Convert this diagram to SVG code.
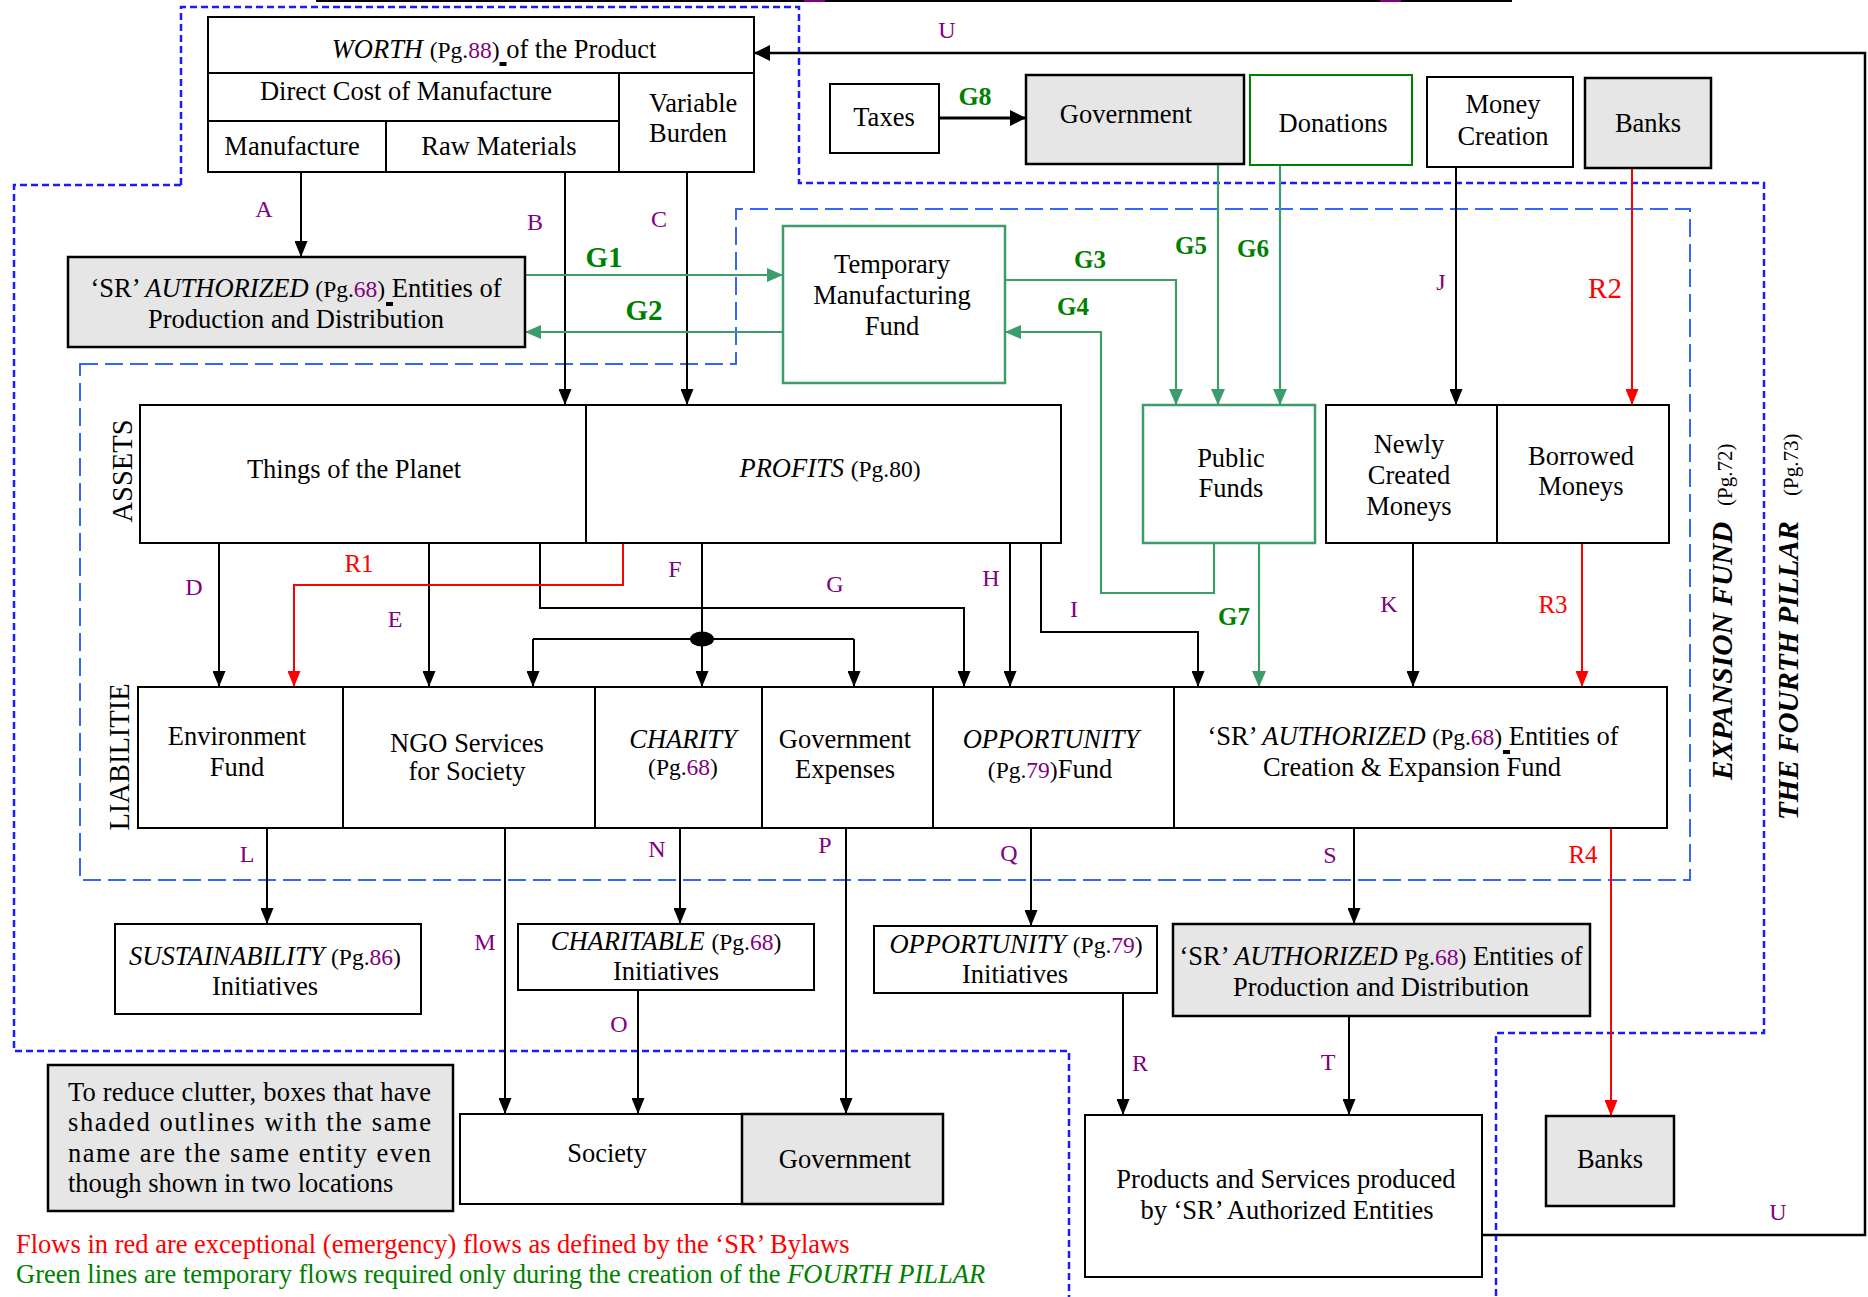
<svg xmlns="http://www.w3.org/2000/svg" width="1868" height="1297" viewBox="0 0 1868 1297">
<style>
text{font-family:"Liberation Serif","Times New Roman",serif;font-size:26.5px;fill:#000}
.c{text-anchor:middle}
.i{font-style:italic}
.pg{font-size:23.5px}
.pu{fill:#800080}
.lb{font-size:24px;fill:#800080;text-anchor:middle}
.gl{fill:#008000;font-weight:bold;text-anchor:middle}
.rl{fill:#ff0000;text-anchor:middle;font-size:25px}
.box{fill:#fff;stroke:#000;stroke-width:2}
.sh{fill:#e6e6e6;stroke:#000;stroke-width:2.5}
.gb{fill:#fff;stroke:#3c9c6c;stroke-width:2.5}
.k{fill:none;stroke:#000;stroke-width:2}
.ka{fill:none;stroke:#000;stroke-width:2;marker-end:url(#ak)}
.ga{fill:none;stroke:#3c9c6c;stroke-width:2.2;marker-end:url(#ag)}
.ra{fill:none;stroke:#ff0000;stroke-width:2;marker-end:url(#ar)}
.fp{fill:none;stroke:#1a1aff;stroke-width:2.5;stroke-dasharray:7 4}
.ef{fill:none;stroke:#3366ff;stroke-width:2;stroke-dasharray:18 7}
.vt{font-weight:bold;font-style:italic;font-size:28.5px}
.vp{font-size:21px}
</style>
<defs>
<marker id="ak" markerUnits="userSpaceOnUse" viewBox="0 0 16 13" refX="16" refY="6.5" markerWidth="16" markerHeight="13" orient="auto"><path d="M0,0L16,6.5L0,13z" fill="#000"/></marker>
<marker id="akb" markerUnits="userSpaceOnUse" viewBox="0 0 16 16" refX="16" refY="8" markerWidth="16" markerHeight="16" orient="auto"><path d="M0,0L16,8L0,16z" fill="#000"/></marker>
<marker id="ag" markerUnits="userSpaceOnUse" viewBox="0 0 16 14" refX="16" refY="7" markerWidth="16" markerHeight="14" orient="auto"><path d="M0,0L16,7L0,14z" fill="#3c9c6c"/></marker>
<marker id="ar" markerUnits="userSpaceOnUse" viewBox="0 0 16 13" refX="16" refY="6.5" markerWidth="16" markerHeight="13" orient="auto"><path d="M0,0L16,6.5L0,13z" fill="#ff0000"/></marker>
</defs>
<rect width="1868" height="1297" fill="#fff"/>

<!-- header rule -->
<rect x="316" y="0" width="1196" height="2" fill="#000"/>
<rect x="804" y="0" width="21" height="2" fill="#800080"/>
<rect x="1380" y="0" width="21" height="2" fill="#800080"/>

<!-- boundaries -->
<g id="fourth-pillar-boundary">
<path class="fp" d="M181,185 V7 H799 V183 H1764 V1033 H1496 V1297"/>
<path class="fp" d="M181,185 H14 V1051 H1069 V1297"/>
</g>
<g id="expansion-fund-boundary">
<path class="ef" d="M80,364 H736 V209 H1690 V880 H80 Z"/>
</g>

<!-- connectors -->
<g id="connectors">
<path class="ka" d="M301,172 V257"/>
<path class="ka" d="M565,172 V405"/>
<path class="ka" d="M687,172 V405"/>
<path fill="none" stroke="#000" stroke-width="2.5" d="M1482,1235 H1865 V53 H754" marker-end="url(#akb)"/>
<path fill="none" stroke="#000" stroke-width="3" d="M939,118 H1026" marker-end="url(#akb)"/>
<path class="ka" d="M1456,167 V405"/>
<path class="ka" d="M1413,543 V687"/>
<path class="ka" d="M219,543 V687"/>
<path class="ka" d="M429,543 V687"/>
<path class="ka" d="M540,543 V608 H964 V687"/>
<path class="k" d="M702,543 V639 M533,639 H854"/>
<path class="ka" d="M702,639 V687"/>
<path class="ka" d="M533,639 V687"/>
<path class="ka" d="M854,639 V687"/>
<ellipse cx="702" cy="639" rx="12" ry="7.5" fill="#000"/>
<path class="ka" d="M1010,543 V687"/>
<path class="ka" d="M1041,543 V632 H1198 V687"/>
<path class="ka" d="M267,828 V924"/>
<path class="ka" d="M505,828 V1114"/>
<path class="ka" d="M680,828 V924"/>
<path class="ka" d="M638,990 V1114"/>
<path class="ka" d="M846,828 V1114"/>
<path class="ka" d="M1031,828 V926"/>
<path class="ka" d="M1123,993 V1115"/>
<path class="ka" d="M1354,828 V924"/>
<path class="ka" d="M1349,1016 V1115"/>
<path class="ra" d="M623,543 V585 H294 V687"/>
<path class="ra" d="M1632,168 V405"/>
<path class="ra" d="M1582,543 V687"/>
<path class="ra" d="M1611,828 V1116"/>
<path class="ga" d="M525,275 H783"/>
<path class="ga" d="M783,332 H525"/>
<path class="ga" d="M1005,280 H1176 V405"/>
<path class="ga" d="M1214,543 V593 H1101 V332 H1005"/>
<path class="ga" d="M1218,164 V405"/>
<path class="ga" d="M1280,165 V405"/>
<path class="ga" d="M1259,543 V687"/>

<!-- flow labels -->
<text class="lb" x="947" y="38">U</text>
<text class="lb" x="1778" y="1220">U</text>
<text class="lb" x="264" y="217">A</text>
<text class="lb" x="535" y="230">B</text>
<text class="lb" x="659" y="227">C</text>
<text class="lb" x="1441" y="290">J</text>
<text class="lb" x="194" y="595">D</text>
<text class="lb" x="395" y="627">E</text>
<text class="lb" x="675" y="577">F</text>
<text class="lb" x="835" y="592">G</text>
<text class="lb" x="991" y="586">H</text>
<text class="lb" x="1074" y="617">I</text>
<text class="lb" x="1389" y="612">K</text>
<text class="lb" x="247" y="862">L</text>
<text class="lb" x="485" y="950">M</text>
<text class="lb" x="657" y="857">N</text>
<text class="lb" x="619" y="1032">O</text>
<text class="lb" x="825" y="853">P</text>
<text class="lb" x="1009" y="861">Q</text>
<text class="lb" x="1140" y="1071">R</text>
<text class="lb" x="1330" y="863">S</text>
<text class="lb" x="1328" y="1070">T</text>
<text class="rl" x="359" y="572">R1</text>
<text class="rl" x="1605" y="298" style="font-size:29px">R2</text>
<text class="rl" x="1553" y="613">R3</text>
<text class="rl" x="1583" y="863">R4</text>
<text class="gl" x="604" y="267" style="font-size:29px">G1</text>
<text class="gl" x="644" y="320" style="font-size:29px">G2</text>
<text class="gl" x="1090" y="268" style="font-size:25px">G3</text>
<text class="gl" x="1073" y="315" style="font-size:25px">G4</text>
<text class="gl" x="1191" y="254" style="font-size:25px">G5</text>
<text class="gl" x="1253" y="257" style="font-size:25px">G6</text>
<text class="gl" x="1234" y="625" style="font-size:25px">G7</text>
<text class="gl" x="975" y="105" style="font-size:26px">G8</text>
</g>

<!-- nodes -->
<g id="worth">
<rect class="box" x="208" y="17" width="546" height="155" stroke-width="2.5"/>
<path class="k" d="M208,73 H754 M208,121 H619 M619,73 V172 M386,121 V172"/>
<text class="c" x="494" y="58"><tspan class="i">WORTH</tspan> <tspan class="pg">(Pg.<tspan class="pu">88</tspan>)</tspan> of the Product</text>
<rect x="499.5" y="62" width="7" height="4" fill="#000"/>
<text class="c" x="406" y="100">Direct Cost of Manufacture</text>
<text class="c" x="292" y="155">Manufacture</text>
<text class="c" x="499" y="155">Raw Materials</text>
<text x="649" y="112">Variable</text>
<text x="649" y="142">Burden</text>
</g>
<g id="taxes">
<rect class="box" x="830" y="84" width="109" height="69"/>
<text class="c" x="884" y="126">Taxes</text>
</g>
<g id="government-top">
<rect class="sh" x="1026" y="75" width="218" height="89"/>
<text class="c" x="1126" y="123">Government</text>
</g>
<g id="donations">
<rect x="1250" y="75" width="162" height="90" fill="#fff" stroke="#008000" stroke-width="2"/>
<text class="c" x="1333" y="132">Donations</text>
</g>
<g id="money-creation">
<rect class="box" x="1427" y="77" width="146" height="90"/>
<text class="c" x="1503" y="113">Money</text>
<text class="c" x="1503" y="145">Creation</text>
</g>
<g id="banks-top">
<rect class="sh" x="1585" y="78" width="126" height="90"/>
<text class="c" x="1648" y="132">Banks</text>
</g>
<g id="sr-production-top">
<rect class="sh" x="68" y="257" width="457" height="90" stroke-width="3"/>
<text class="c" x="296" y="297">‘SR’ <tspan class="i">AUTHORIZED</tspan> <tspan class="pg">(Pg.<tspan class="pu">68</tspan>)</tspan> Entities of</text>
<rect x="386" y="302" width="7" height="4" fill="#000"/>
<text class="c" x="296" y="328">Production and Distribution</text>
</g>
<g id="temporary-fund">
<rect class="gb" x="783" y="226" width="222" height="157"/>
<text class="c" x="892" y="273">Temporary</text>
<text class="c" x="892" y="304">Manufacturing</text>
<text class="c" x="892" y="335">Fund</text>
</g>
<g id="assets">
<rect class="box" x="140" y="405" width="921" height="138"/>
<path class="k" d="M586,405 V543"/>
<text class="c" x="354" y="478">Things of the Planet</text>
<text class="c" x="830" y="477"><tspan class="i">PROFITS</tspan> <tspan class="pg">(Pg.80)</tspan></text>
<text class="c" transform="translate(132,471) rotate(-90)" style="font-size:28.5px">ASSETS</text>
</g>
<g id="public-funds">
<rect class="gb" x="1143" y="405" width="172" height="138"/>
<text class="c" x="1231" y="467">Public</text>
<text class="c" x="1231" y="497">Funds</text>
</g>
<g id="new-borrowed">
<rect class="box" x="1326" y="405" width="343" height="138"/>
<path class="k" d="M1497,405 V543"/>
<text class="c" x="1409" y="453">Newly</text>
<text class="c" x="1409" y="484">Created</text>
<text class="c" x="1409" y="515">Moneys</text>
<text class="c" x="1581" y="465">Borrowed</text>
<text class="c" x="1581" y="495">Moneys</text>
</g>
<g id="liabilities">
<rect class="box" x="138" y="687" width="1529" height="141"/>
<path class="k" d="M343,687 V828 M595,687 V828 M762,687 V828 M933,687 V828 M1174,687 V828"/>
<text class="c" transform="translate(129,757) rotate(-90)" style="font-size:28.5px">LIABILITIE</text>
<text class="c" x="237" y="745">Environment</text>
<text class="c" x="237" y="776">Fund</text>
<text class="c" x="467" y="752">NGO Services</text>
<text class="c" x="467" y="780">for Society</text>
<text class="c i" x="683" y="748">CHARITY</text>
<text class="c pg" x="683" y="775">(Pg.<tspan class="pu">68</tspan>)</text>
<text class="c" x="845" y="748">Government</text>
<text class="c" x="845" y="778">Expenses</text>
<text class="c i" x="1051" y="748">OPPORTUNITY</text>
<text class="c" x="1050" y="778"><tspan class="pg">(Pg.<tspan class="pu">79</tspan>)</tspan>Fund</text>
<text class="c" x="1413" y="745">‘SR’ <tspan class="i">AUTHORIZED</tspan> <tspan class="pg">(Pg.<tspan class="pu">68</tspan>)</tspan> Entities of</text>
<rect x="1503" y="750" width="7" height="4" fill="#000"/>
<text class="c" x="1412" y="776">Creation &amp; Expansion Fund</text>
</g>
<g id="sustainability">
<rect class="box" x="115" y="924" width="306" height="90"/>
<text class="c" x="265" y="965"><tspan class="i">SUSTAINABILITY</tspan> <tspan class="pg">(Pg.<tspan class="pu">86</tspan>)</tspan></text>
<text class="c" x="265" y="995">Initiatives</text>
</g>
<g id="charitable">
<rect class="box" x="518" y="924" width="296" height="66"/>
<text class="c" x="666" y="950"><tspan class="i">CHARITABLE</tspan> <tspan class="pg">(Pg.<tspan class="pu">68</tspan>)</tspan></text>
<text class="c" x="666" y="980">Initiatives</text>
</g>
<g id="opportunity">
<rect class="box" x="874" y="926" width="283" height="67"/>
<text class="c" x="1016" y="953"><tspan class="i">OPPORTUNITY</tspan> <tspan class="pg">(Pg.<tspan class="pu">79</tspan>)</tspan></text>
<text class="c" x="1015" y="983">Initiatives</text>
</g>
<g id="sr-production-bottom">
<rect class="sh" x="1173" y="924" width="417" height="92" stroke-width="3"/>
<text class="c" x="1381" y="965">‘SR’ <tspan class="i">AUTHORIZED</tspan> <tspan class="pg">Pg.<tspan class="pu">68</tspan>)</tspan> Entities of</text>
<text class="c" x="1381" y="996">Production and Distribution</text>
</g>
<g id="note">
<rect class="sh" x="48" y="1065" width="405" height="146" stroke-width="3"/>
<text x="68" y="1101" textLength="363" lengthAdjust="spacing">To reduce clutter, boxes that have</text>
<text x="68" y="1131" textLength="363" lengthAdjust="spacing">shaded outlines with the same</text>
<text x="68" y="1162" textLength="363" lengthAdjust="spacing">name are the same entity even</text>
<text x="68" y="1192">though shown in two locations</text>
</g>
<g id="society">
<rect class="box" x="460" y="1114" width="282" height="90"/>
<text class="c" x="607" y="1162">Society</text>
</g>
<g id="government-bottom">
<rect class="sh" x="742" y="1114" width="201" height="90"/>
<text class="c" x="845" y="1168">Government</text>
</g>
<g id="products">
<rect class="box" x="1085" y="1115" width="397" height="162"/>
<text class="c" x="1286" y="1188">Products and Services produced</text>
<text class="c" x="1287" y="1219">by ‘SR’ Authorized Entities</text>
</g>
<g id="banks-bottom">
<rect class="sh" x="1546" y="1116" width="128" height="90"/>
<text class="c" x="1610" y="1168">Banks</text>
</g>

<!-- side titles -->
<g id="titles">
<text class="vt" transform="translate(1732,780) rotate(-90)" textLength="258" lengthAdjust="spacingAndGlyphs">EXPANSION FUND</text>
<text class="vp" transform="translate(1732,506) rotate(-90)">(Pg.72)</text>
<text class="vt" transform="translate(1798,820) rotate(-90)" textLength="299" lengthAdjust="spacingAndGlyphs">THE FOURTH PILLAR</text>
<text class="vp" transform="translate(1798,496) rotate(-90)">(Pg.73)</text>
</g>

<!-- legend -->
<g id="legend">
<text x="16" y="1253" style="fill:#ff0000">Flows in red are exceptional (emergency) flows as defined by the ‘SR’ Bylaws</text>
<text x="16" y="1283" style="fill:#008000">Green lines are temporary flows required only during the creation of the <tspan class="i">FOURTH PILLAR</tspan></text>
</g>
</svg>
